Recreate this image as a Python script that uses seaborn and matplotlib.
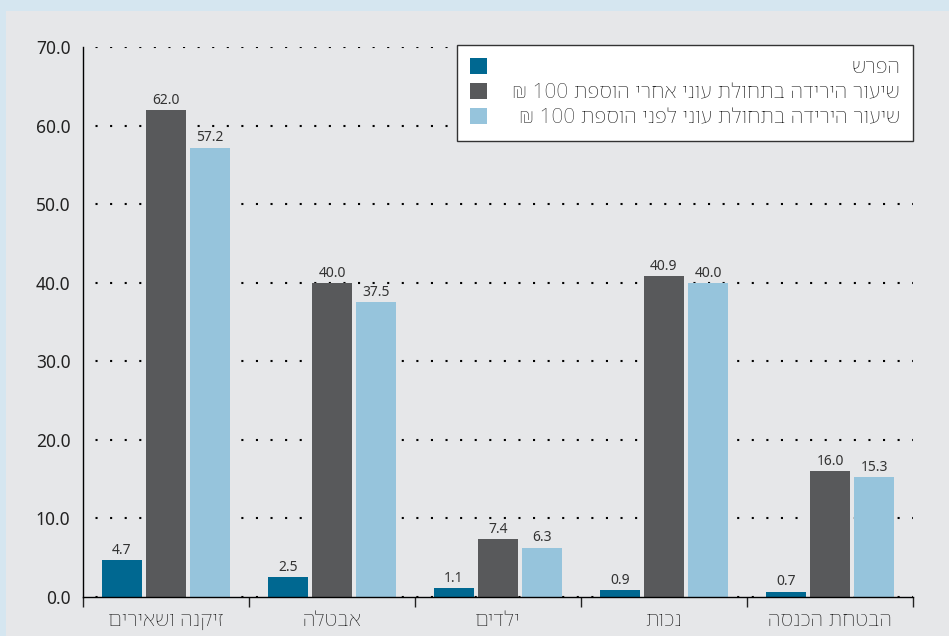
import numpy as np
import pandas as pd
import matplotlib
matplotlib.use("Agg")
import matplotlib.pyplot as plt
from matplotlib.patches import Rectangle
from matplotlib.ticker import FixedLocator, FormatStrFormatter
import seaborn as sns

# ---- data (logical Hebrew order) ----
categories = ["זיקנה ושאירים", "אבטלה", "ילדים", "נכות", "הבטחת הכנסה"]
series_names = ["הפרש",
                "שיעור הירידה בתחולת עוני אחרי הוספת 100 ₪",
                "שיעור הירידה בתחולת עוני לפני הוספת 100 ₪"]
diff_vals = [4.7, 2.5, 1.1, 0.9, 0.7]
after_vals = [62.0, 40.0, 7.4, 40.9, 16.0]
before_vals = [57.2, 37.5, 6.3, 40.0, 15.3]
y_ticks = [0, 10, 20, 30, 40, 50, 60, 70]

colors = ["#006891", "#58595b", "#96c4dc"]


def vis(s):
    """Simple visual reordering for RTL Hebrew text."""
    words = s.split(" ")
    out = []
    for w in reversed(words):
        if any("\u0590" <= ch <= "\u05ff" for ch in w):
            out.append(w[::-1])
        else:
            out.append(w)
    return " ".join(out)


rows = []
for name, vals in zip(series_names, [diff_vals, after_vals, before_vals]):
    for c, v in zip(categories, vals):
        rows.append({"cat": vis(c), "series": vis(name), "value": v})
df = pd.DataFrame(rows)

sns.set_style("white")
heb_font = ["Noto Sans Hebrew", "Noto Sans", "DejaVu Sans"]
num_font = ["Noto Sans", "DejaVu Sans"]
plt.rcParams["font.family"] = num_font

W, H = 949, 636
fig = plt.figure(figsize=(W / 100, H / 100), dpi=100, facecolor="#d5e6f0")
bg = Rectangle((6 / W, 0), 1 - 6 / W, 1 - 11 / H,
               transform=fig.transFigure, facecolor="#e6e7e9",
               edgecolor="none", zorder=-10)
fig.patches.append(bg)
ax = fig.add_axes([83 / W, 1 - 597 / H, (913 - 83) / W, (597 - 47) / H])
ax.set_zorder(1)
ax.set_facecolor("#e6e7e9")

sns.barplot(data=df, x="cat", y="value", hue="series",
            order=[vis(c) for c in categories],
            hue_order=[vis(n) for n in series_names],
            palette=colors, width=0.8, gap=0.1, saturation=1,
            linewidth=0, ax=ax, errorbar=None, legend=True)

for cont in ax.containers:
    ax.bar_label(cont, fmt="%.1f", padding=1.5, fontsize=10, color="#333333")

ax.set_xlim(-0.5, 4.5)
ax.set_ylim(0, 70)
ax.set_yticks(y_ticks)
ax.yaxis.set_major_formatter(FormatStrFormatter("%.1f"))
ax.set_xlabel("")
ax.set_ylabel("")

ax.set_axisbelow(True)
ax.yaxis.grid(True, color="black", linestyle=(1, (1, 6)), linewidth=1.5)
ax.xaxis.grid(False)

for s in ["top", "right"]:
    ax.spines[s].set_visible(False)
for s in ["left", "bottom"]:
    ax.spines[s].set_color("black")
    ax.spines[s].set_linewidth(1.0)

ax.tick_params(axis="y", length=0, pad=9, labelsize=12.5, colors="#222222")
ax.tick_params(axis="x", which="major", length=0, pad=10)
ax.xaxis.set_minor_locator(FixedLocator([-0.5, 0.5, 1.5, 2.5, 3.5, 4.5]))
ax.tick_params(axis="x", which="minor", bottom=True, length=7.5, width=1.0,
               color="#222222", direction="out")
for lab in ax.get_xticklabels():
    lab.set_fontfamily(heb_font)
    lab.set_fontsize(15)
    lab.set_color("#222222")

handles, labels = ax.get_legend_handles_labels()
leg = ax.legend(handles, labels, loc="upper right",
                bbox_to_anchor=(1.0, 1.004), borderaxespad=0,
                frameon=True, fancybox=False, framealpha=1,
                facecolor="white", edgecolor="#333333",
                prop={"family": heb_font, "size": 15},
                handlelength=0.82, handleheight=0.82, labelspacing=0.22,
                borderpad=0.62, handletextpad=0.8)
leg.get_frame().set_linewidth(1.0)
for t in leg.get_texts():
    t.set_color("#222222")
for col in leg._legend_handle_box.get_children():
    for row in col.get_children():
        row.width = 430
        row.mode = "expand"

fig.savefig("out.png", dpi=100, facecolor=fig.get_facecolor())
